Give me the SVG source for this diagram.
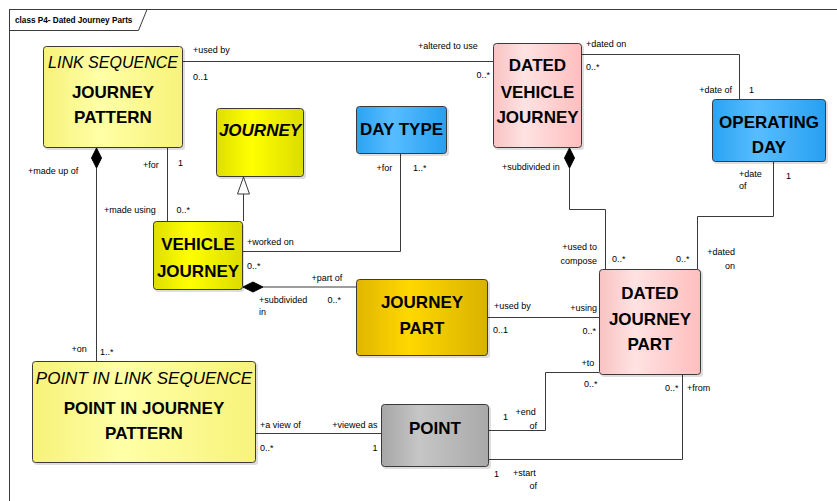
<svg xmlns="http://www.w3.org/2000/svg" width="837" height="501" viewBox="0 0 837 501">
<style>
text{font-family:"Liberation Sans",Arial,sans-serif;fill:#000}
.t{font-size:17px;font-weight:bold;text-anchor:middle}
.ti{font-size:17px;font-style:italic;text-anchor:middle}
.tbi{font-size:17px;font-weight:bold;font-style:italic;text-anchor:middle}
.l{font-size:9px}
.e{text-anchor:end}
.box{stroke:#3a3a3a;stroke-width:1}
.sh{fill:#000;opacity:0.13}
.c{fill:none;stroke:#3a3a3a;stroke-width:1}
.d{fill:#000;stroke:#000;stroke-width:1}
.g{fill:#fff;stroke:#3a3a3a;stroke-width:1}
</style>
<defs>
<linearGradient id="gLY" x1="0" y1="0" x2="1" y2="0"><stop offset="0" stop-color="#f6f27a"/><stop offset="0.4" stop-color="#ffffa6"/><stop offset="1" stop-color="#f7f37a"/></linearGradient>
<linearGradient id="gY" x1="0" y1="0" x2="1" y2="0"><stop offset="0" stop-color="#dede00"/><stop offset="0.4" stop-color="#ffff00"/><stop offset="1" stop-color="#dcdc00"/></linearGradient>
<linearGradient id="gG" x1="0" y1="0" x2="1" y2="0"><stop offset="0" stop-color="#e0b600"/><stop offset="0.4" stop-color="#ffd800"/><stop offset="1" stop-color="#d9b200"/></linearGradient>
<linearGradient id="gB" x1="0" y1="0" x2="1" y2="0"><stop offset="0" stop-color="#2ba3f2"/><stop offset="0.4" stop-color="#58bdff"/><stop offset="1" stop-color="#27a0f0"/></linearGradient>
<linearGradient id="gP" x1="0" y1="0" x2="1" y2="0"><stop offset="0" stop-color="#f9c2c2"/><stop offset="0.35" stop-color="#ffe2e2"/><stop offset="1" stop-color="#ffbebe"/></linearGradient>
<linearGradient id="gGr" x1="0" y1="0" x2="1" y2="0"><stop offset="0" stop-color="#a6a6a6"/><stop offset="0.35" stop-color="#c6c6c6"/><stop offset="1" stop-color="#a9a9a9"/></linearGradient>
</defs>
<rect width="837" height="501" fill="#fff"/>
<g id="frame">
<rect x="9.5" y="9.5" width="900" height="600" fill="none" stroke="#3a3a3a"/>
<path d="M9.5,30.5 H138.5 L147,9.5" fill="none" stroke="#3a3a3a"/>
<text x="15" y="23" style="font-size:8.2px;font-weight:bold">class P4- Dated Journey Parts</text>
</g>
<g id="connectors">
<path class="c" d="M183,61.5 H493"/>
<path class="c" d="M582,54.5 H739.5 V99"/>
<path class="c" d="M167.5,148 V221"/>
<path class="c" d="M243.5,221 V194"/>
<polygon class="g" points="243.5,177 249.5,194 237.5,194"/>
<path class="c" d="M400.5,154 V251.5 H243"/>
<path class="c" d="M263,287 H356"/>
<polygon class="d" points="243,287 253,282 263,287 253,292"/>
<path class="c" d="M569.5,168 V209.5 H605.5 V269"/>
<polygon class="d" points="569.5,148 574.5,158 569.5,168 564.5,158"/>
<path class="c" d="M773.5,162 V216.5 H697.5 V269"/>
<path class="c" d="M488,317.5 H599"/>
<path class="c" d="M96.5,168 V361"/>
<polygon class="d" points="96.5,148 101.5,158 96.5,168 91.5,158"/>
<path class="c" d="M256,433.5 H381"/>
<path class="c" d="M489,430.5 H545.5 V372.5 H599"/>
<path class="c" d="M489,459.5 H682.5 V375"/>
<text class="l" x="193" y="52.5">+used by</text>
<text class="l" x="193" y="79.5">0..1</text>
<text class="l" x="418" y="48.5">+altered to use</text>
<text class="l e" x="490" y="77.5">0..*</text>
<text class="l" x="586" y="46.8">+dated on</text>
<text class="l" x="586" y="69.5">0..*</text>
<text class="l e" x="732" y="92.5">+date of</text>
<text class="l" x="749" y="92.5">1</text>
<text class="l" x="143" y="167.5">+for</text>
<text class="l" x="178" y="165.8">1</text>
<text class="l" x="28" y="173.5">+made up of</text>
<text class="l" x="104" y="212.5">+made using</text>
<text class="l" x="176.5" y="212.5">0..*</text>
<text class="l" x="376.5" y="171">+for</text>
<text class="l" x="413" y="171">1..*</text>
<text class="l" x="502" y="170">+subdivided in</text>
<text class="l" x="247" y="245">+worked on</text>
<text class="l" x="247" y="268.5">0..*</text>
<text class="l" x="311.5" y="280.5">+part of</text>
<text class="l" x="259" y="302.5">+subdivided</text>
<text class="l" x="259" y="315">in</text>
<text class="l" x="327.5" y="302.5">0..*</text>
<text class="l e" x="597" y="250">+used to</text>
<text class="l e" x="597" y="263.5">compose</text>
<text class="l" x="612" y="261.5">0..*</text>
<text class="l" x="676" y="261.5">0..*</text>
<text class="l" x="739" y="176.5">+date</text>
<text class="l" x="739" y="189">of</text>
<text class="l" x="786" y="179">1</text>
<text class="l e" x="735" y="255">+dated</text>
<text class="l e" x="735" y="268.5">on</text>
<text class="l" x="494" y="308.5">+used by</text>
<text class="l" x="493" y="332.5">0..1</text>
<text class="l e" x="597" y="310.5">+using</text>
<text class="l e" x="596" y="333.5">0..*</text>
<text class="l" x="581.5" y="365.8">+to</text>
<text class="l" x="584" y="386.8">0..*</text>
<text class="l" x="665" y="390.8">0..*</text>
<text class="l" x="687" y="390.8">+from</text>
<text class="l" x="71.5" y="351.8">+on</text>
<text class="l" x="100" y="355">1..*</text>
<text class="l" x="260" y="427.8">+a view of</text>
<text class="l" x="260" y="450.8">0..*</text>
<text class="l e" x="377.5" y="427.8">+viewed as</text>
<text class="l e" x="377.5" y="450.8">1</text>
<text class="l" x="503" y="419.5">1</text>
<text class="l" x="515.5" y="415">+end</text>
<text class="l e" x="537" y="428.5">of</text>
<text class="l" x="494" y="476.8">1</text>
<text class="l" x="513" y="475.8">+start</text>
<text class="l e" x="537" y="488.5">of</text>
</g>
<g id="link-sequence-journey-pattern">
<rect class="sh" x="45" y="48" width="140" height="102" rx="3"/>
<rect class="box" x="43.5" y="46.5" width="139" height="101" rx="3" fill="url(#gLY)"/>
<text class="ti" x="113" y="67.5" style="font-size:16px">LINK SEQUENCE</text>
<text class="t" x="113" y="97.8">JOURNEY</text>
<text class="t" x="113" y="122.8">PATTERN</text>
</g>
<g id="journey">
<rect class="sh" x="218" y="110" width="88" height="69" rx="3"/>
<rect class="box" x="216.5" y="108.5" width="87" height="68" rx="3" fill="url(#gY)"/>
<text class="tbi" x="260" y="136">JOURNEY</text>
</g>
<g id="day-type">
<rect class="sh" x="358" y="108" width="91" height="48" rx="3"/>
<rect class="box" x="356.5" y="106.5" width="90" height="47" rx="3" fill="url(#gB)"/>
<text class="t" x="401.5" y="135">DAY TYPE</text>
</g>
<g id="dated-vehicle-journey">
<rect class="sh" x="495" y="45" width="89" height="105" rx="3"/>
<rect class="box" x="493.5" y="43.5" width="88" height="104" rx="3" fill="url(#gP)"/>
<text class="t" x="537.5" y="71">DATED</text>
<text class="t" x="537.5" y="97.5">VEHICLE</text>
<text class="t" x="537.5" y="123">JOURNEY</text>
</g>
<g id="operating-day">
<rect class="sh" x="714" y="101" width="114" height="63" rx="3"/>
<rect class="box" x="712.5" y="99.5" width="113" height="62" rx="3" fill="url(#gB)"/>
<text class="t" x="769" y="128">OPERATING</text>
<text class="t" x="769" y="153.3">DAY</text>
</g>
<g id="vehicle-journey">
<rect class="sh" x="155" y="223" width="89" height="69" rx="3"/>
<rect class="box" x="153.5" y="221.5" width="89" height="68" rx="3" fill="url(#gY)"/>
<text class="t" x="198" y="250.3">VEHICLE</text>
<text class="t" x="198" y="276.7">JOURNEY</text>
</g>
<g id="journey-part">
<rect class="sh" x="358" y="281" width="132" height="77" rx="3"/>
<rect class="box" x="356.5" y="279.5" width="131" height="76" rx="3" fill="url(#gG)"/>
<text class="t" x="422" y="308">JOURNEY</text>
<text class="t" x="422" y="334">PART</text>
</g>
<g id="dated-journey-part">
<rect class="sh" x="601" y="271" width="102" height="106" rx="3"/>
<rect class="box" x="599.5" y="269.5" width="101" height="105" rx="3" fill="url(#gP)"/>
<text class="t" x="650" y="298.7">DATED</text>
<text class="t" x="650" y="325">JOURNEY</text>
<text class="t" x="650" y="350.3">PART</text>
</g>
<g id="point-in-link-sequence">
<rect class="sh" x="34" y="363" width="224" height="102" rx="3"/>
<rect class="box" x="32.5" y="361.5" width="223" height="101" rx="3" fill="url(#gLY)"/>
<text class="ti" x="144" y="384">POINT IN LINK SEQUENCE</text>
<text class="t" x="144" y="413.7">POINT IN JOURNEY</text>
<text class="t" x="144" y="439.4">PATTERN</text>
</g>
<g id="point">
<rect class="sh" x="383" y="406" width="108" height="63" rx="3"/>
<rect class="box" x="381.5" y="404.5" width="107" height="62" rx="3" fill="url(#gGr)"/>
<text class="t" x="435" y="433.8">POINT</text>
</g>
</svg>
